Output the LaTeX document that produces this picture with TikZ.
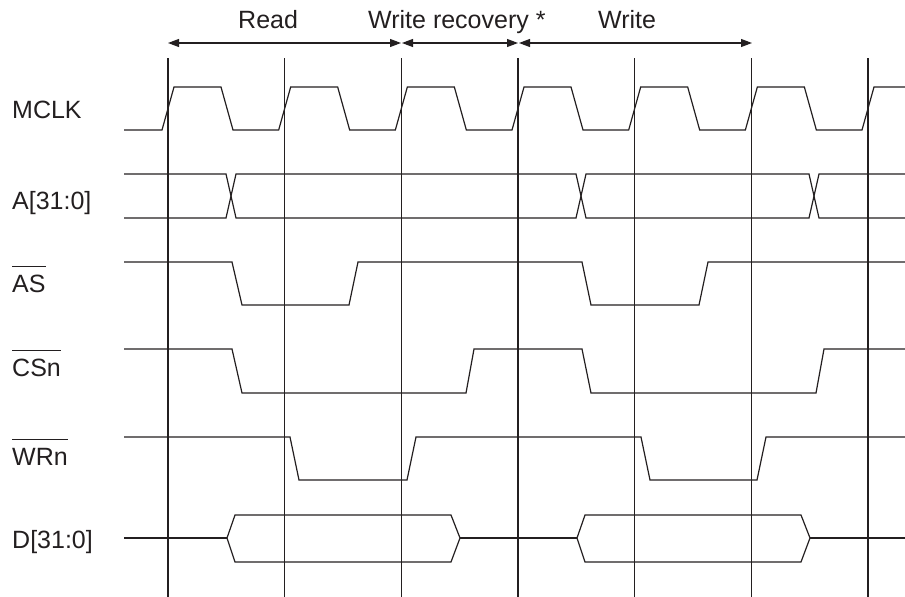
\documentclass[tikz,border=0pt]{standalone}
\usepackage{fontspec}
\setmainfont{Liberation Sans}
\definecolor{wfink}{RGB}{35,31,32}
\usetikzlibrary{arrows.meta,positioning}
\newcommand{\negsig}[1]{\vbox{\hrule height 1.2pt\kern 7.5pt\hbox{#1}}}

\begin{document}
\begin{tikzpicture}[x=1pt, y=-1pt,
  sig/.style={draw=wfink, line width=1.2pt, line join=miter},
  gridline/.style={draw=wfink, line width=1.1pt},
  span/.style={draw=wfink, line width=1.1pt, {Triangle[length=11pt,width=8pt]}-{Triangle[length=11pt,width=8pt]}},
  lbl/.style={anchor=base west, inner sep=0pt, text=wfink, font=\fontsize{25}{30}\selectfont}]
  \useasboundingbox (0,0) rectangle (905,597);

  % clock edges
  \foreach \k in {0,...,6} {
    \coordinate (t\k) at ({168+\k*116.67},58);
    \draw[gridline] (t\k) -- ++(0,539);
  }
  \coordinate (a0) at (168,43);
  \coordinate (a1) at (401,43);
  \coordinate (a2) at (402,43);
  \coordinate (a3) at (518,43);
  \coordinate (a4) at (519,43);
  \coordinate (a5) at (752,43);
  \draw[span] (a0) -- (a1);
  \draw[span] (a2) -- (a3);
  \draw[span] (a4) -- (a5);
  \node[lbl] (rd) at (238,28) {Read};
  \node[lbl] (wrr) at (368,28) {Write recovery *};
  \node[lbl] (wr) at (598,28) {Write};

  % signal names
  \node[lbl] (mclk) at (12,118) {MCLK};
  \node[lbl] (addr) at (12,209) {A[31:0]};
  \node[lbl] (as) at (12,292) {\negsig{AS}};
  \node[lbl] (cs) at (12,376) {\negsig{CSn}};
  \node[lbl] (wrn) at (12,465) {\negsig{WRn}};
  \node[lbl] (data) at (12,548) {D[31:0]};

  % MCLK
  \draw[sig] (124,130) \foreach \k in {0,...,5} {
      -- ({162+\k*116.67},130) -- ({174+\k*116.67},87)
      -- ({221+\k*116.67},87) -- ({233+\k*116.67},130)}
    -- (862,130) -- (874,87) -- (905,87);

  % A[31:0]
  \draw[sig] (124,174) -- (226,174) -- (236,218) -- (576,218) -- (586,174)
    -- (809,174) -- (819,218) -- (905,218);
  \draw[sig] (124,218) -- (226,218) -- (236,174) -- (576,174) -- (586,218)
    -- (809,218) -- (819,174) -- (905,174);

  % AS
  \draw[sig] (124,262) -- (232,262) -- (242,305) -- (349,305) -- (358,262)
    -- (582,262) -- (591,305) -- (699,305) -- (708,262) -- (905,262);

  % CSn
  \draw[sig] (124,349) -- (232,349) -- (242,393) -- (466,393) -- (474,349)
    -- (582,349) -- (591,393) -- (816,393) -- (824,349) -- (905,349);

  % WRn
  \draw[sig] (124,437) -- (290,437) -- (299,480) -- (407,480) -- (416,437)
    -- (641,437) -- (650,480) -- (757,480) -- (766,437) -- (905,437);

  % D[31:0]
  \draw[sig] (124,538) -- (227,538);
  \draw[sig] (227,538) -- (235,515) -- (451,515) -- (460,538) -- (451,562) -- (235,562) -- cycle;
  \draw[sig] (460,538) -- (577,538);
  \draw[sig] (577,538) -- (585,515) -- (801,515) -- (810,538) -- (801,562) -- (585,562) -- cycle;
  \draw[sig] (810,538) -- (905,538);
\end{tikzpicture}
\end{document}
